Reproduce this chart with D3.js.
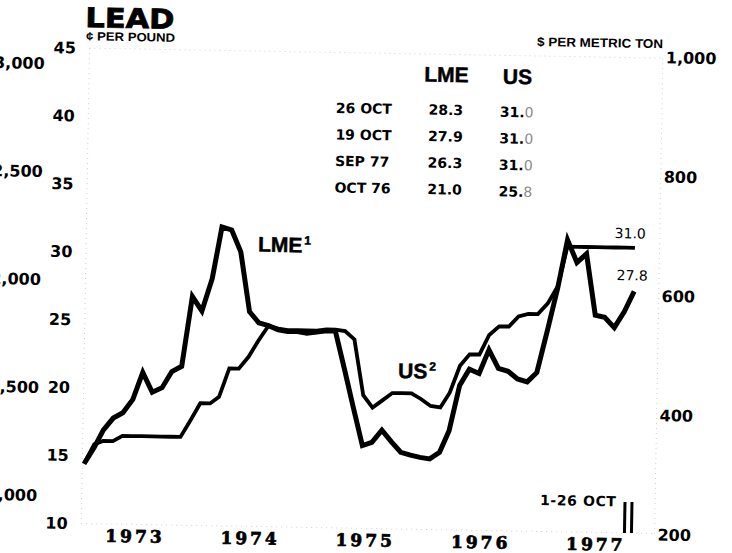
<!DOCTYPE html>
<html>
<head>
<meta charset="utf-8">
<script src="https://cdn.jsdelivr.net/npm/d3@7"></script>
<style>
  html, body { margin: 0; padding: 0; background: #fff; }
  svg { display: block; }
</style>
</head>
<body>
<svg id="chart" width="732" height="553"></svg>
<script>
// ---- Data: monthly lead prices, cents per pound, Jan 1973 – Oct 1977 (Oct = 1–26 Oct) ----
const startYear = 1973;

const lme = [
  14.4, 15.6, 16.9, 17.8, 18.2, 19.2, 21.2, 19.75, 20.1, 21.3, 21.7, 26.85,   // 1973
  25.8, 28.2, 32.0, 31.8, 30.2, 25.8, 25.0, 24.8, 24.5, 24.4, 24.4, 24.3,     // 1974
  24.4, 24.5, 24.5, 21.7, 18.9, 16.1, 16.35, 17.25, 16.4, 15.65, 15.45, 15.3, // 1975
  15.2, 15.7, 17.3, 20.65, 21.85, 21.55, 23.3, 21.95, 21.75, 21.2, 21.0, 21.7,// 1976
  24.8, 28.0, 31.5, 29.85, 30.5, 26.0, 25.85, 25.1, 26.3, 27.8                // 1977
];

const us = [
  14.4, 15.85, 16.1, 16.1, 16.5, 16.5, 16.5, 16.5, 16.5, 16.5, 16.5, 17.7,    // 1973
  19.0, 19.0, 19.5, 21.6, 21.6, 22.5, 23.7, 24.8, 24.6, 24.5, 24.5, 24.5,     // 1974
  24.5, 24.6, 24.6, 24.5, 23.9, 19.8, 18.9, 19.45, 20.0, 20.0, 20.0, 19.6,    // 1975
  19.1, 19.0, 20.1, 22.1, 22.95, 22.95, 24.4, 25.05, 25.05, 25.8, 26.0, 26.0, // 1976
  26.8, 28.1, 31.0, 31.0, 31.0, 31.0, 31.0, 31.0, 31.0, 31.0                  // 1977
];

// Axis tick values
const centTicks  = [10, 15, 20, 25, 30, 35, 40, 45];   // ¢ per pound
const tonTicks   = [200, 400, 600, 800, 1000];         // $ per metric ton
const outerTicks = [1000, 1500, 2000, 2500, 3000];     // outer left scale
const years      = [1973, 1974, 1975, 1976, 1977];

// Price table
const tableDates = ["26 OCT", "19 OCT", "SEP 77", "OCT 76"];
const tableLME   = ["28.3", "27.9", "26.3", "21.0"];
const tableUS    = ["31.0", "31.0", "31.0", "25.8"];

// End-of-series callouts
const endLabelUS  = "31.0";
const endLabelLME = "27.8";

// ---- Drawing ----
const svg = d3.select("#chart");
// The whole page is set at a slight clockwise tilt
const root = svg.append("g").attr("transform", "rotate(1, 366, 276)");

const BOLD = "'DejaVu Sans', sans-serif";
const HELV = "'Liberation Sans', Arial, sans-serif";

const x = d3.scaleTime()
  .domain([new Date(1973, 0, 1), new Date(1978, 0, 1)])
  .range([83, 659]);
const y = d3.scaleLinear().domain([10, 45]).range([528.4, 53]);
const yTon = d3.scaleLinear().domain([200, 1000]).range([529.7, 52.5]);
const yOuter = d3.scaleLinear().domain([1000, 3000]).range([501, 69]);

const dateOf = i => new Date(startYear, i, 15);

// Faint dotted frame
const frame = root.append("g")
  .attr("fill", "none")
  .attr("stroke", "#cfcfcf")
  .attr("stroke-width", 1)
  .attr("stroke-dasharray", "1,4");
const [x0, x1] = x.range();
frame.append("line").attr("x1", x0 + 2.6).attr("x2", x0 + 2.6).attr("y1", y(45)).attr("y2", y(10));
frame.append("line").attr("x1", x1).attr("x2", x1).attr("y1", y(45)).attr("y2", y(10));
frame.append("line").attr("x1", x0 + 2.6).attr("x2", x1).attr("y1", y(45)).attr("y2", y(45));
frame.append("line").attr("x1", x0 + 2.6).attr("x2", x1).attr("y1", y(10)).attr("y2", y(10));

// Left axis: cents per pound
const leftAxis = root.append("g")
  .attr("transform", "translate(85.6,0)")
  .call(d3.axisLeft(y).tickValues(centTicks).tickSize(0).tickPadding(13.6));
leftAxis.select(".domain").remove();
leftAxis.selectAll("text")
  .attr("font-family", BOLD).attr("font-weight", "bold")
  .attr("font-size", 16).attr("fill", "#000");

// Outer left axis
const outerAxis = root.append("g")
  .attr("transform", "translate(41,0)")
  .call(d3.axisLeft(yOuter).tickValues(outerTicks).tickSize(0).tickPadding(0)
    .tickFormat(d3.format(",")));
outerAxis.select(".domain").remove();
outerAxis.selectAll("text")
  .attr("font-family", BOLD).attr("font-weight", "bold")
  .attr("font-size", 16).attr("fill", "#000");

// Right axis: dollars per metric ton
const rightAxis = root.append("g")
  .attr("transform", `translate(${x1},0)`)
  .call(d3.axisRight(yTon).tickValues(tonTicks).tickSize(0).tickPadding(3)
    .tickFormat(d3.format(",")));
rightAxis.select(".domain").remove();
rightAxis.selectAll("text")
  .attr("font-family", BOLD).attr("font-weight", "bold")
  .attr("font-size", 16).attr("fill", "#000");

// Year labels, centred in each year
const bottomAxis = root.append("g")
  .attr("transform", `translate(0,${y(10)})`)
  .call(d3.axisBottom(x)
    .tickValues(years.map(yr => new Date(yr, 6, 1)))
    .tickSize(0).tickPadding(5.8)
    .tickFormat(d3.timeFormat("%Y")));
bottomAxis.select(".domain").remove();
bottomAxis.selectAll("text")
  .attr("font-family", "'DejaVu Serif', serif").attr("font-weight", "bold")
  .attr("font-size", 17).attr("letter-spacing", 3)
  .attr("stroke", "#000").attr("stroke-width", 0.7)
  .attr("dx", -1).attr("fill", "#000");

// Unit captions and title
root.append("text")
  .attr("x", 81).attr("y", 32)
  .attr("font-family", BOLD).attr("font-weight", "bold")
  .attr("stroke", "#000").attr("stroke-width", 0.8)
  .attr("font-size", 27).attr("textLength", 89).attr("lengthAdjust", "spacingAndGlyphs")
  .text("LEAD");
root.append("text")
  .attr("x", 82).attr("y", 45.2)
  .attr("font-family", HELV).attr("font-weight", "bold")
  .attr("font-size", 12).attr("textLength", 89).attr("lengthAdjust", "spacingAndGlyphs")
  .text("¢ PER POUND");
root.append("text")
  .attr("x", 533).attr("y", 43)
  .attr("font-family", HELV).attr("font-weight", "bold")
  .attr("font-size", 12.5).attr("textLength", 126).attr("lengthAdjust", "spacingAndGlyphs")
  .text("$ PER METRIC TON");

// Price table
const table = root.append("g").attr("fill", "#000");
table.append("text")
  .attr("x", 443).attr("y", 80.6).attr("text-anchor", "middle")
  .attr("font-family", HELV).attr("font-weight", "bold").attr("font-size", 21)
  .attr("stroke", "#000").attr("stroke-width", 0.5)
  .text("LME");
table.append("text")
  .attr("x", 514).attr("y", 81.5).attr("text-anchor", "middle")
  .attr("font-family", HELV).attr("font-weight", "bold").attr("font-size", 21)
  .attr("stroke", "#000").attr("stroke-width", 0.5)
  .text("US");

tableDates.forEach((d, i) => {
  const base = 113.5 + i * 26.5;
  table.append("text")
    .attr("x", 333).attr("y", base)
    .attr("font-family", BOLD).attr("font-weight", "bold").attr("font-size", 14)
    .text(d);
  table.append("text")
    .attr("x", 443).attr("y", base).attr("text-anchor", "middle")
    .attr("font-family", BOLD).attr("font-weight", "bold").attr("font-size", 14)
    .text(tableLME[i]);
  const t = table.append("text")
    .attr("x", 497).attr("y", base + 1)
    .attr("font-family", BOLD).attr("font-size", 14);
  const v = tableUS[i];
  t.append("tspan").attr("font-weight", "bold").text(v.slice(0, -1));
  t.append("tspan").attr("fill", "#8a8a8a").text(v.slice(-1));
});

// Price lines
const lineGen = d3.line()
  .x(d => x(d.date))
  .y(d => y(d.v));

const usData  = us.map((v, i) => ({ date: dateOf(i), v }));
const lmeData = lme.map((v, i) => ({ date: dateOf(i), v }));

root.append("path")
  .datum(usData)
  .attr("d", lineGen)
  .attr("fill", "none")
  .attr("stroke", "#000")
  .attr("stroke-width", 3.8)
  .attr("stroke-linejoin", "miter")
  .attr("stroke-miterlimit", 6);

root.append("path")
  .datum(lmeData)
  .attr("d", lineGen)
  .attr("fill", "none")
  .attr("stroke", "#000")
  .attr("stroke-width", 5)
  .attr("stroke-linejoin", "miter")
  .attr("stroke-miterlimit", 6);

// Series labels
const lmeLabel = root.append("text")
  .attr("x", 257.5).attr("y", 253.5)
  .attr("font-family", HELV).attr("font-weight", "bold").attr("font-size", 21)
  .attr("stroke", "#000").attr("stroke-width", 0.5);
lmeLabel.append("tspan").text("LME");
lmeLabel.append("tspan").attr("font-size", 12).attr("dx", 2).attr("dy", -8).text("1");

const usLabel = root.append("text")
  .attr("x", 399.8).attr("y", 377.4)
  .attr("font-family", HELV).attr("font-weight", "bold").attr("font-size", 21)
  .attr("stroke", "#000").attr("stroke-width", 0.5);
usLabel.append("tspan").text("US");
usLabel.append("tspan").attr("font-size", 12).attr("dx", 2).attr("dy", -8).text("2");

// End-value callouts
const last = lme.length - 1;
root.append("text")
  .attr("x", x(dateOf(last)) - 20.5).attr("y", y(us[last]) - 9.5)
  .attr("font-family", BOLD).attr("font-size", 14)
  .text(endLabelUS);
root.append("text")
  .attr("x", x(dateOf(last)) - 17.8).attr("y", y(lme[last]) - 11)
  .attr("font-family", BOLD).attr("font-size", 14)
  .text(endLabelLME);

// Break marks and the partial-month note
const xb = x(dateOf(last));
root.append("g")
  .attr("stroke", "#000").attr("stroke-width", 3)
  .selectAll("line")
  .data([xb - 5.5, xb + 1.5])
  .join("line")
  .attr("x1", d => d).attr("x2", d => d)
  .attr("y1", y(10) - 31).attr("y2", y(10));

root.append("text")
  .attr("x", 544).attr("y", 502)
  .attr("font-family", BOLD).attr("font-weight", "bold")
  .attr("font-size", 14).attr("letter-spacing", 0.6)
  .text("1-26 OCT");
</script>
</body>
</html>
